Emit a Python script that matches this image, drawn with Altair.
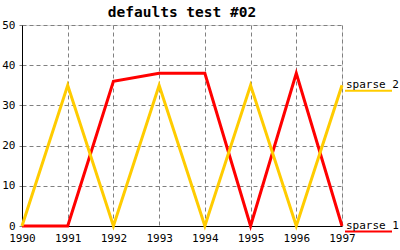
import altair as alt
import pandas as pd

years = [1990, 1991, 1992, 1993, 1994, 1995, 1996, 1997]
sparse1 = [0, 0, 36, 38, 38, 0, 38, 0]
sparse2 = [0, 35, 0, 35, 0, 35, 0, 35]
series_names = ["sparse 1", "sparse 2"]
series_colors = ["#ff0000", "#ffcc00"]
y_ticks = [0, 10, 20, 30, 40, 50]

rows = []
for name, vals in zip(series_names, [sparse1, sparse2]):
    for yr, v in zip(years, vals):
        rows.append({"year": yr, "value": v, "series": name})
df = pd.DataFrame(rows)
last = df[df["year"] == years[-1]]

font = "DejaVu Sans Mono"
xscale = alt.Scale(domain=[years[0], years[-1]], nice=False, zero=False)
yscale = alt.Scale(domain=[0, 50], nice=False)
color = alt.Color("series:N", scale=alt.Scale(domain=series_names, range=series_colors), legend=None)

x_enc = alt.X("year:Q", scale=xscale, title=None,
              axis=alt.Axis(values=years, format="d", labelFlush=False, labelOverlap=False,
                            grid=True, gridDash=[4, 3], gridColor="#808080", gridOpacity=1,
                            domainColor="black", tickColor="#808080", tickSize=0,
                            labelPadding=6, labelFont=font, labelFontSize=11, labelColor="black"))
y_enc = alt.Y("value:Q", scale=yscale, title=None,
              axis=alt.Axis(values=y_ticks, grid=True, gridDash=[4, 3], gridColor="#808080", gridOpacity=1,
                            domainColor="black", tickColor="#808080", tickSize=3,
                            labelPadding=4, labelFont=font, labelFontSize=11, labelColor="black"))

red = alt.Chart(df[df["series"] == "sparse 1"]).mark_line(strokeWidth=3, color="#ff0000").encode(
    x=x_enc, y=y_enc)
yellow = alt.Chart(df[df["series"] == "sparse 2"]).mark_line(strokeWidth=3, color="#ffcc00").encode(
    x=alt.X("year:Q", scale=xscale), y=alt.Y("value:Q", scale=yscale))

labels = alt.Chart(last).mark_text(align="left", baseline="alphabetic", dx=4, dy=2.5,
                                  font=font, fontSize=11, color="black").encode(
    x=alt.X("year:Q", scale=xscale), y=alt.Y("value:Q", scale=yscale), text="series:N")

underline = alt.Chart(last).mark_rule(strokeWidth=2, yOffset=5.5, xOffset=3, clip=False).encode(
    x=alt.X("year:Q", scale=xscale), x2=alt.value(370),
    y=alt.Y("value:Q", scale=yscale), color=color)

chart = alt.layer(red, yellow, underline, labels).properties(
    width=320, height=201,
    title=alt.TitleParams("defaults test #02", font=font, fontSize=14.5, fontWeight="bold",
                          color="black", offset=0, baseline="top", anchor="middle", dy=1),
    autosize=alt.AutoSizeParams(type="none"),
    padding={"left": 22, "top": 25, "right": 58, "bottom": 24},
).configure_view(stroke="black", strokeWidth=1).configure(background="white")

chart.save("out.html", embed_options={"renderer": "svg", "actions": False})
